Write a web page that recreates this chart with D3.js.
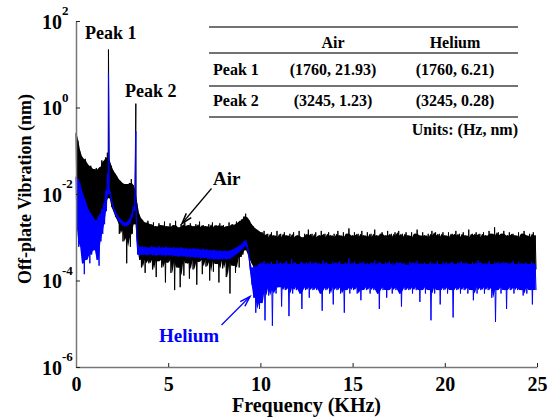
<!DOCTYPE html>
<html>
<head>
<meta charset="utf-8">
<script src="https://cdn.jsdelivr.net/npm/d3@7"></script>
<style>
  body { margin: 0; background: #fff; }
  svg { display: block; font-family: "Liberation Serif", "Times New Roman", serif; font-weight: bold; }
</style>
</head>
<body>
<div id="chart"></div>
<script>
// spectrum bins, 0.1 KHz wide: upper and lower envelope of each bin (nm)
const freqStep = 0.1;

const airHi = [
  0.26, 0.17, 0.1, 0.075, 0.06, 0.065, 0.05, 0.042, 0.045, 0.038,
  0.035, 0.04, 0.036, 0.042, 0.06, 0.055, 0.07, 0.09, 0.06, 0.045,
  0.035, 0.03, 0.026, 0.022, 0.02, 0.018, 0.017, 0.016, 0.017, 0.018,
  0.022, 0.016, 0.012, 0.006, 0.0035, 0.0028, 0.0025, 0.0022, 0.0021, 0.0024,
  0.002, 0.0017, 0.0022, 0.0018, 0.0016, 0.0021, 0.0019, 0.0015, 0.0023, 0.0018,
  0.0017, 0.0021, 0.0016, 0.0019, 0.0024, 0.0017, 0.0015, 0.002, 0.0018, 0.0022,
  0.0016, 0.0019, 0.0021, 0.0015, 0.0018, 0.002, 0.0017, 0.0023, 0.0016, 0.0019,
  0.0018, 0.0015, 0.002, 0.0017, 0.0022, 0.0016, 0.0019, 0.0018, 0.0021, 0.0017,
  0.0019, 0.0016, 0.0018, 0.0022, 0.0017, 0.002, 0.0019, 0.0023, 0.0021, 0.0024,
  0.0026, 0.003, 0.0035, 0.0028, 0.0024, 0.002, 0.0018, 0.0016, 0.0015, 0.0014,
  0.0013, 0.0011, 0.0014, 0.001, 0.0012, 0.0009, 0.0013, 0.0011, 0.001, 0.0014,
  0.0009, 0.0012, 0.001, 0.0013, 0.0011, 0.0008, 0.0012, 0.001, 0.0013, 0.0009,
  0.0011, 0.0014, 0.001, 0.0009, 0.0012, 0.0011, 0.0015, 0.001, 0.0012, 0.0009,
  0.0013, 0.001, 0.0011, 0.0014, 0.0009, 0.0012, 0.001, 0.0013, 0.0011, 0.001,
  0.0012, 0.0009, 0.0014, 0.0011, 0.001, 0.0013, 0.0009, 0.0012, 0.0016, 0.001,
  0.0011, 0.0013, 0.0009, 0.0012, 0.001, 0.0014, 0.0011, 0.0009, 0.0013, 0.001,
  0.0012, 0.001, 0.0015, 0.0011, 0.0009, 0.0012, 0.0013, 0.001, 0.0011, 0.0014,
  0.001, 0.0012, 0.0009, 0.0013, 0.0011, 0.0014, 0.001, 0.0012, 0.0009, 0.0013,
  0.0011, 0.001, 0.0013, 0.0009, 0.0012, 0.0015, 0.0011, 0.001, 0.0013, 0.0011,
  0.0009, 0.0012, 0.001, 0.0014, 0.0011, 0.0013, 0.0009, 0.0012, 0.001, 0.0013,
  0.0011, 0.0009, 0.0013, 0.001, 0.0012, 0.0011, 0.0014, 0.0009, 0.0012, 0.001,
  0.0013, 0.0011, 0.001, 0.0015, 0.0009, 0.0012, 0.0011, 0.0013, 0.001, 0.0012,
  0.0009, 0.0013, 0.0011, 0.001, 0.0014, 0.0012, 0.0009, 0.0017, 0.0011, 0.0013,
  0.001, 0.0012, 0.0014, 0.0009, 0.0011, 0.0013, 0.001, 0.0012, 0.0011, 0.0009,
  0.0013, 0.001, 0.0012, 0.0014, 0.0011, 0.0009, 0.0012, 0.001, 0.0013, 0.0011
];

const airLo = [
  0.006, 0.002, 0.0009, 0.0004, 0.00025, 0.0006, 0.0012, 0.0008, 0.002, 0.001,
  0.0015, 0.0007, 0.002, 0.0012, 0.004, 0.003, 0.006, 0.012, 0.008, 0.005,
  0.004, 0.003, 0.0025, 0.0012, 0.002, 0.0008, 0.0015, 0.00025, 0.001, 0.0006,
  0.0012, 0.002, 0.004, 0.0006, 0.0003, 0.0002, 0.00035, 0.00015, 0.0003, 0.00025,
  0.0003, 0.00018, 0.00032, 0.00012, 0.00028, 0.00035, 0.0002, 0.0003, 0.00009, 0.00026,
  0.0003, 0.00015, 0.00034, 0.00006, 0.00028, 0.0002, 0.00007, 0.0003, 0.00013, 0.00033,
  0.00025, 0.00011, 0.0003, 0.00018, 0.00034, 0.00008, 0.00027, 0.00032, 0.00014, 0.0003,
  0.00021, 0.00033, 0.0001, 0.00028, 0.00016, 0.00031, 0.00024, 0.00009, 0.0003, 0.00019,
  0.0003, 0.00012, 0.00027, 0.00005, 0.00031, 0.00022, 0.00015, 0.00034, 0.0002, 0.00035,
  0.0004, 0.0005, 0.0006, 0.0004, 0.0003, 0.00025, 0.0002, 0.00015, 0.0002, 0.00018,
  0.0002, 0.00015, 0.00022, 0.00018, 0.0002, 0.00012, 0.00021, 0.00017, 0.00023, 0.00019,
  0.00016, 0.00022, 0.00019, 0.00008, 0.0002, 0.00017, 0.00023, 0.00015, 0.0002, 0.00018,
  0.00021, 0.00016, 0.0002, 0.00023, 0.00014, 0.00019, 0.00022, 0.00017, 0.0002, 0.00016,
  0.00019, 0.00022, 0.00015, 0.0002, 0.00018, 0.00009, 0.00021, 0.00017, 0.00023, 0.00019,
  0.00017, 0.0002, 0.00022, 0.00016, 0.00019, 0.00021, 0.00015, 0.0002, 0.00018, 0.00022,
  0.0002, 0.00016, 0.00019, 0.00023, 0.00017, 0.0002, 0.00014, 0.00021, 0.00018, 0.0002,
  0.00015, 0.00021, 0.00018, 0.0002, 0.00022, 0.00016, 0.00019, 0.00007, 0.0002, 0.00017,
  0.00022, 0.00018, 0.0002, 0.00016, 0.00021, 0.00019, 0.00023, 0.00015, 0.0002, 0.00018,
  0.00019, 0.00021, 0.00016, 0.0002, 0.00018, 0.00022, 0.00017, 0.00019, 0.00021, 0.00016,
  0.0002, 0.00017, 0.00022, 0.00018, 0.0002, 0.00015, 0.00021, 0.00019, 0.00017, 0.00022,
  0.00018, 0.0002, 0.00016, 0.00021, 0.00019, 0.00017, 0.00022, 0.0002, 0.00015, 0.00019,
  0.00021, 0.00017, 0.0002, 0.00018, 0.00022, 0.00016, 0.00019, 0.00021, 0.00018, 0.0002,
  0.00016, 0.00019, 0.00022, 0.00017, 0.0002, 0.00018, 0.00006, 0.00021, 0.00019, 0.00017,
  0.0002, 0.00018, 0.00021, 0.00016, 0.00019, 0.00022, 0.00017, 0.0002, 0.00018, 0.00021,
  0.00017, 0.0002, 0.00018, 0.00022, 0.00016, 0.00019, 0.00021, 0.00017, 0.0002, 0.00018
];

const heliumHi = [
  0.025, 0.022, 0.018, 0.012, 0.009, 0.007, 0.005, 0.004, 0.0035, 0.003,
  0.0022, 0.0025, 0.003, 0.0035, 0.0045, 0.006, 0.012, 0.03, 0.013, 0.008,
  0.0054, 0.0041, 0.0034, 0.0029, 0.0026, 0.0024, 0.0022, 0.0022, 0.0024, 0.0027,
  0.0035, 0.0052, 0.01, 0.0009, 0.0006, 0.00058, 0.00062, 0.00056, 0.0006, 0.00057,
  0.00058, 0.00063, 0.00055, 0.0006, 0.00056, 0.00062, 0.00054, 0.00059, 0.00057, 0.00061,
  0.00055, 0.00058, 0.00053, 0.0006, 0.00054, 0.00057, 0.00052, 0.00059, 0.00055, 0.00053,
  0.00056, 0.00051, 0.00055, 0.00052, 0.00057, 0.0005, 0.00054, 0.00052, 0.00049, 0.00055,
  0.0005, 0.00053, 0.00048, 0.00051, 0.00047, 0.00052, 0.00049, 0.00046, 0.0005, 0.00048,
  0.00047, 0.0005, 0.00046, 0.00049, 0.00051, 0.00052, 0.00055, 0.00058, 0.00062, 0.00066,
  0.00072, 0.00082, 0.00087, 0.0006, 0.0003, 0.00014, 0.0002, 0.00022, 0.00019, 0.00024,
  0.00026, 0.00021, 0.00028, 0.00023, 0.00025, 0.0002, 0.00027, 0.00024, 0.00022, 0.00029,
  0.00023, 0.00026, 0.0002, 0.00025, 0.00028, 0.00022, 0.00024, 0.00031, 0.00021, 0.00026,
  0.00024, 0.00022, 0.00027, 0.00025, 0.0002, 0.00026, 0.00023, 0.00028, 0.00022, 0.00025,
  0.00027, 0.00021, 0.00025, 0.00023, 0.00029, 0.00022, 0.00026, 0.00024, 0.0002, 0.00027,
  0.00023, 0.00026, 0.00022, 0.00028, 0.00024, 0.00021, 0.00026, 0.00023, 0.00033, 0.00022,
  0.00025, 0.00028, 0.00022, 0.00024, 0.00026, 0.0002, 0.00027, 0.00023, 0.00025, 0.00021,
  0.00026, 0.00023, 0.00029, 0.00022, 0.00025, 0.00027, 0.00021, 0.00024, 0.00026, 0.00023,
  0.00028, 0.00022, 0.00025, 0.00021, 0.00027, 0.00024, 0.00026, 0.0002, 0.00025, 0.00023,
  0.00022, 0.00027, 0.00024, 0.00026, 0.00021, 0.00028, 0.00023, 0.00025, 0.00022, 0.00026,
  0.00024, 0.00021, 0.00027, 0.00023, 0.00025, 0.00022, 0.00028, 0.00024, 0.0002, 0.00026,
  0.00023, 0.00026, 0.00022, 0.00025, 0.00027, 0.00021, 0.00024, 0.00026, 0.00023, 0.00028,
  0.00025, 0.00022, 0.00026, 0.00024, 0.0002, 0.00027, 0.00023, 0.00025, 0.00029, 0.00022,
  0.00026, 0.00023, 0.00025, 0.00021, 0.00028, 0.00024, 0.00022, 0.00026, 0.00024, 0.00027,
  0.00022, 0.00025, 0.00027, 0.00023, 0.00026, 0.0002, 0.00025, 0.00028, 0.00023, 0.00024,
  0.00027, 0.00023, 0.00025, 0.00022, 0.00026, 0.00024, 0.00021, 0.00027, 0.00025, 0.00023
];

const heliumLo = [
  0.002, 0.0006, 0.0008, 0.00025, 0.00014, 0.0003, 0.0006, 0.00025, 0.0004, 0.0005,
  0.0007, 0.0003, 0.00022, 0.0008, 0.0012, 0.002, 0.004, 0.01, 0.011, 0.0064,
  0.0043, 0.0033, 0.0027, 0.0023, 0.0021, 0.0019, 0.0018, 0.0018, 0.0019, 0.0021,
  0.0028, 0.0041, 0.008, 0.0004, 0.00038, 0.0004, 0.00039, 0.00041, 0.00038, 0.0004,
  0.00041, 0.00038, 0.0004, 0.00037, 0.00041, 0.00039, 0.00038, 0.0004, 0.00036, 0.00039,
  0.00038, 0.0004, 0.00036, 0.00039, 0.00037, 0.00035, 0.00038, 0.00036, 0.00039, 0.00035,
  0.00037, 0.00034, 0.00036, 0.00035, 0.00033, 0.00036, 0.00034, 0.00032, 0.00035, 0.00033,
  0.00034, 0.00031, 0.00033, 0.00032, 0.0003, 0.00033, 0.00031, 0.0003, 0.00032, 0.00031,
  0.00032, 0.0003, 0.00033, 0.00031, 0.00034, 0.00036, 0.00039, 0.00041, 0.00045, 0.0005,
  0.00054, 0.00062, 0.00068, 0.00045, 0.00018, 0.00008, 0.00004, 0.000018, 0.00005, 0.000022,
  0.00003, 0.00006, 0.000012, 0.00007, 0.000045, 0.00008, 0.000009, 0.00006, 0.00005, 0.00007,
  0.00008, 0.000025, 0.00007, 0.00006, 0.00009, 0.000015, 0.00007, 0.00005, 0.00008, 0.00006,
  0.00007, 0.00005, 0.000022, 0.00008, 0.00006, 0.00007, 0.00004, 0.00009, 0.00006, 0.00007,
  0.00006, 0.00008, 0.00005, 0.00002, 0.00007, 0.00006, 0.00009, 0.00005, 0.00007, 0.000028,
  0.00007, 0.00006, 0.00008, 0.00005, 0.00007, 0.000018, 0.00006, 0.00008, 0.00005, 0.00007,
  0.00006, 0.00008, 0.00005, 0.00007, 0.000035, 0.00006, 0.00009, 0.00006, 0.00007, 0.00005,
  0.00008, 0.00006, 0.00007, 0.00005, 0.000022, 0.00008, 0.00006, 0.00007, 0.00004, 0.00006,
  0.00007, 0.00005, 0.00008, 0.00006, 0.00007, 0.00005, 0.000025, 0.00008, 0.00006, 0.00007,
  0.00006, 0.00008, 0.00005, 0.00007, 0.00006, 0.00009, 0.000032, 0.00006, 0.00008, 0.00005,
  0.00007, 0.00006, 0.000012, 0.00008, 0.00005, 0.00007, 0.00006, 0.000028, 0.00007, 0.00006,
  0.00008, 0.00005, 0.00007, 0.00006, 0.000014, 0.00008, 0.00006, 0.00007, 0.00005, 0.00008,
  0.00006, 0.00007, 0.00005, 0.00008, 0.00006, 0.000035, 0.00007, 0.00005, 0.00008, 0.00006,
  0.00007, 0.00005, 0.00008, 0.00006, 0.00007, 0.00004, 0.00008, 0.000011, 0.00006, 0.00007,
  0.00005, 0.00008, 0.00006, 0.000022, 0.00007, 0.00006, 0.00008, 0.00005, 0.00007, 0.00006,
  0.00008, 0.00006, 0.000045, 0.00007, 0.00005, 0.00008, 0.00006, 0.000028, 0.00007, 0.00006
];

// resonance peaks (KHz, nm)
const peakNames = ["Peak 1", "Peak 2"];
const peakFreq = [1.76, 3.245];
const airPeak = [21.93, 1.23];
const heliumPeak = [6.21, 0.28];

const xTicks = [0, 5, 10, 15, 20, 25];
const yTicks = [1e-6, 1e-4, 1e-2, 1e0, 1e2];

const width = 549;
const height = 418;

const svg = d3
  .select("#chart")
  .append("svg")
  .attr("width", width)
  .attr("height", height);

svg.append("rect").attr("width", width).attr("height", height).attr("fill", "#fff");

const x = d3.scaleLinear().domain([0, 25]).range([76, 537]);
const y = d3.scaleLog().domain([1e-6, 1e2]).range([367, 21]);

// zigzag through each bin's max then min, so the trace reads as a dense band
function spectrumPoints(hi, lo, peaks) {
  var pts = [];
  hi.forEach(function (h, i) {
    pts.push([i * freqStep, h]);
    pts.push([i * freqStep + freqStep / 2, lo[i]]);
  });
  peakFreq.forEach(function (f, j) {
    pts.push([f, peaks[j]]);
  });
  pts.sort(function (a, b) { return a[0] - b[0]; });
  return pts;
}

// solid core of the band: 3-bin median of the envelopes (drops lone spikes)
function corePoints(hi, lo) {
  return hi.map(function (h, i) {
    var a = Math.max(i - 1, 0), b = Math.min(i + 1, hi.length - 1);
    var top = d3.median([hi[a], h, hi[b]]);
    var bot = d3.median([lo[a], lo[i], lo[b]]);
    return [i * freqStep + freqStep / 4, top, Math.min(bot, top)];
  });
}

const line = d3.line().x(d => x(d[0])).y(d => y(d[1]));
const area = d3.area().x(d => x(d[0])).y0(d => y(d[2])).y1(d => y(d[1]));

function drawTrace(hi, lo, peaks, color) {
  svg.append("path").attr("d", area(corePoints(hi, lo))).attr("fill", color);
  svg
    .append("path")
    .attr("d", line(spectrumPoints(hi, lo, peaks)))
    .attr("fill", "none")
    .attr("stroke", color)
    .attr("stroke-width", 1);
}

drawTrace(airHi, airLo, airPeak, "#000");
drawTrace(heliumHi, heliumLo, heliumPeak, "#0000ff");

// axes
const xAxis = svg
  .append("g")
  .attr("transform", "translate(0," + y(1e-6) + ")")
  .call(d3.axisBottom(x).tickValues(xTicks).tickSizeInner(-4).tickSizeOuter(0).tickPadding(10));

xAxis.select(".domain").attr("stroke", "#777").attr("stroke-width", 1.5);
xAxis.selectAll(".tick line").attr("stroke", "#222");
xAxis
  .selectAll(".tick text")
  .attr("font-family", "Liberation Serif, serif")
  .attr("font-weight", "bold")
  .attr("font-size", 20)
  .attr("fill", "#000");

const yAxis = svg
  .append("g")
  .attr("transform", "translate(" + x(0) + ",0)")
  .call(d3.axisLeft(y).tickValues(yTicks).tickSizeInner(-4).tickSizeOuter(0).tickFormat(""));

yAxis.select(".domain").attr("stroke", "#777").attr("stroke-width", 1.5);
yAxis.selectAll(".tick line").attr("stroke", "#222");

const yLabels = svg.append("g");
yTicks.forEach(function (t) {
  var ty = y(t);
  yLabels
    .append("text")
    .attr("x", 62)
    .attr("y", ty + 7.5)
    .attr("text-anchor", "end")
    .attr("font-size", 20)
    .text("10");
  yLabels
    .append("text")
    .attr("x", 62)
    .attr("y", ty - 6)
    .attr("font-size", 13)
    .text(String(Math.round(Math.log10(t))));
});

svg
  .append("text")
  .attr("x", x(12.5))
  .attr("y", 412)
  .attr("text-anchor", "middle")
  .attr("font-size", 20)
  .text("Frequency (KHz)");

svg
  .append("text")
  .attr("transform", "translate(31," + 189 + ") rotate(-90)")
  .attr("text-anchor", "middle")
  .attr("font-size", 18)
  .text("Off-plate Vibration (nm)");

// peak labels
svg.append("text").attr("x", 85).attr("y", 39).attr("font-size", 18).text(peakNames[0]);
svg.append("text").attr("x", 125).attr("y", 97).attr("font-size", 18).text(peakNames[1]);

// summary table
const tableLeft = 209;
const tableRight = 518;
const colX = [333, 455];
const rowY = [75, 106];

[27, 53, 86, 117].forEach(function (ly) {
  svg
    .append("line")
    .attr("x1", tableLeft)
    .attr("x2", tableRight)
    .attr("y1", ly)
    .attr("y2", ly)
    .attr("stroke", "#444")
    .attr("stroke-width", 1.4);
});

["Air", "Helium"].forEach(function (h, i) {
  svg
    .append("text")
    .attr("x", colX[i])
    .attr("y", 48)
    .attr("text-anchor", "middle")
    .attr("font-size", 16)
    .text(h);
});

peakNames.forEach(function (name, r) {
  svg.append("text").attr("x", 213).attr("y", rowY[r]).attr("font-size", 16).text(name);
  [airPeak, heliumPeak].forEach(function (vals, c) {
    svg
      .append("text")
      .attr("x", colX[c])
      .attr("y", rowY[r])
      .attr("text-anchor", "middle")
      .attr("font-size", 16)
      .text("(" + Math.round(peakFreq[r] * 1000) + ", " + vals[r] + ")");
  });
});

svg
  .append("text")
  .attr("x", tableRight)
  .attr("y", 135)
  .attr("text-anchor", "end")
  .attr("font-size", 16)
  .text("Units: (Hz, nm)");

// arrows pointing at each trace
function arrow(x1, y1, x2, y2, color) {
  var a = Math.atan2(y2 - y1, x2 - x1);
  var len = 11, spread = 0.3;
  svg
    .append("line")
    .attr("x1", x1).attr("y1", y1)
    .attr("x2", x2).attr("y2", y2)
    .attr("stroke", color)
    .attr("stroke-width", 1.2);
  svg
    .append("path")
    .attr("d", "M" + (x2 - len * Math.cos(a - spread)) + "," + (y2 - len * Math.sin(a - spread)) +
      "L" + x2 + "," + y2 +
      "L" + (x2 - len * Math.cos(a + spread)) + "," + (y2 - len * Math.sin(a + spread)))
    .attr("fill", "none")
    .attr("stroke", color)
    .attr("stroke-width", 1.5);
}

svg.append("text").attr("x", 213).attr("y", 185).attr("font-size", 19).text("Air");
arrow(211.5, 188.5, 182, 223.5, "#000");

svg.append("text").attr("x", 159).attr("y", 342).attr("font-size", 19).attr("fill", "#0000ff").text("Helium");
arrow(221.5, 325, 250, 296.5, "#0000ff");
</script>
</body>
</html>
